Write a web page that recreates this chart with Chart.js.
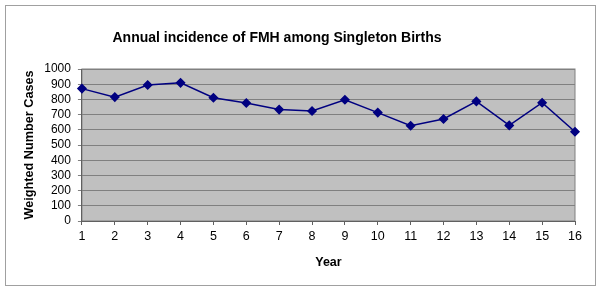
<!DOCTYPE html>
<html>
<head>
<meta charset="utf-8">
<script src="https://cdn.jsdelivr.net/npm/chart.js@4"></script>
<style>
  body { margin: 0; background: #fff; }
  #wrap { width: 600px; height: 291px; }
</style>
</head>
<body>
<div id="wrap"><canvas id="c" width="600" height="291"></canvas></div>
<script>
// data
const years = [1, 2, 3, 4, 5, 6, 7, 8, 9, 10, 11, 12, 13, 14, 15, 16];
const cases = [871, 815, 895, 909, 811, 776, 733, 724, 798, 713, 627, 671, 787, 629, 778, 587];
const yTicks = [0, 100, 200, 300, 400, 500, 600, 700, 800, 900, 1000];
const chartTitle = 'Annual incidence of FMH among Singleton Births';

// white page, grey outer frame, grey plot background and the title
const frame = {
    id: 'frame',
    beforeDraw(chart) {
        const ctx = chart.ctx;
        const a = chart.chartArea;
        ctx.save();
        ctx.fillStyle = '#fff';
        ctx.fillRect(0, 0, chart.width, chart.height);
        ctx.strokeStyle = '#a0a0a0';
        ctx.lineWidth = 1;
        ctx.strokeRect(5.5, 5.5, 590, 280);
        ctx.fillStyle = '#c0c0c0';
        ctx.fillRect(a.left, a.top, a.right - a.left, a.bottom - a.top);
        ctx.strokeStyle = '#808080';
        ctx.strokeRect(a.left, a.top, a.right - a.left, a.bottom - a.top);
        // title sits a bit left of the plot centre, as in the original
        ctx.fillStyle = '#000';
        ctx.font = 'bold 14px "Liberation Sans"';
        ctx.textAlign = 'center';
        ctx.textBaseline = 'alphabetic';
        ctx.fillText(chartTitle, 277, 42);
        ctx.restore();
    }
};

new Chart(document.getElementById('c'), {
    type: 'line',
    data: {
        datasets: [{
            data: years.map((y, i) => ({ x: y, y: cases[i] })),
            borderColor: '#000080',
            backgroundColor: '#000080',
            borderWidth: 1.5,
            pointStyle: 'rectRot',
            pointRadius: 4,
            tension: 0,
            clip: false
        }]
    },
    options: {
        responsive: false,
        animation: false,
        layout: { padding: { left: 22, right: 25, top: 69, bottom: 17 } },
        plugins: {
            legend: { display: false },
            tooltip: { enabled: false },
            title: { display: false }
        },
        scales: {
            x: {
                type: 'linear',
                min: 1,
                max: 16,
                afterBuildTicks: axis => { axis.ticks = years.map(v => ({ value: v })); },
                grid: { drawOnChartArea: false, color: '#606060', tickLength: 4 },
                border: { color: '#606060', width: 1 },
                ticks: { autoSkip: false, maxRotation: 0, color: '#000', font: { family: 'Liberation Sans', size: 12.5 }, padding: 4 },
                title: { display: true, text: 'Year', color: '#000', font: { family: 'Liberation Sans', size: 12.5, weight: 'bold' }, padding: { top: 7 } }
            },
            y: {
                min: 0,
                max: 1000,
                afterBuildTicks: axis => { axis.ticks = yTicks.map(v => ({ value: v })); },
                grid: { color: '#808080', tickLength: 4, drawTicks: true },
                border: { color: '#606060' },
                ticks: { autoSkip: false, color: '#000', font: { family: 'Liberation Sans', size: 12 }, padding: 7, callback: v => String(v) },
                title: { display: true, text: 'Weighted Number Cases', color: '#000', font: { family: 'Liberation Sans', size: 12.7, weight: 'bold' }, padding: { top: 0, bottom: 0 } }
            }
        }
    },
    plugins: [frame]
});
</script>
</body>
</html>
